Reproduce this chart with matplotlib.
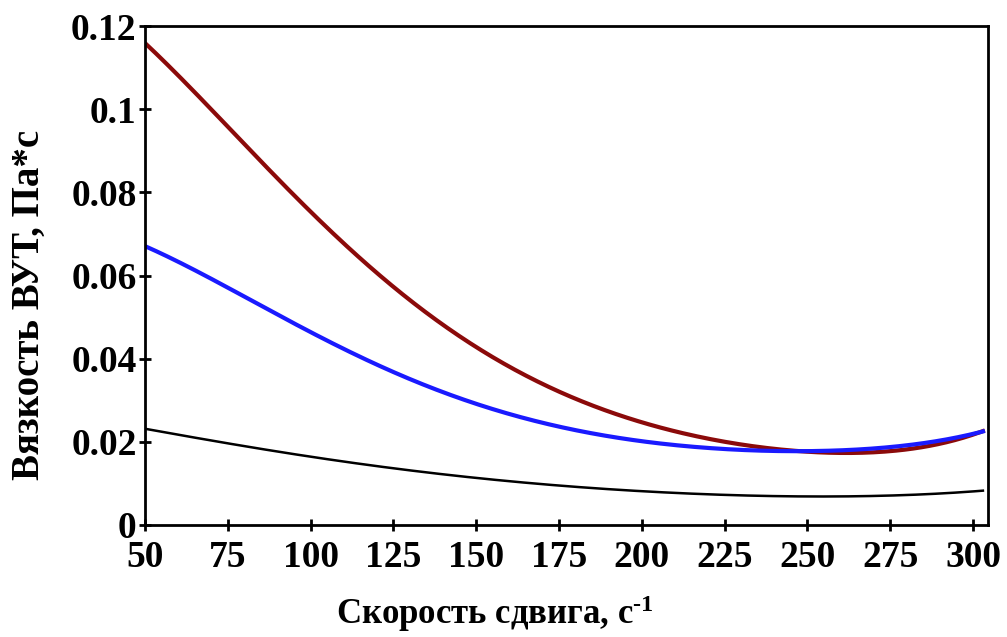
import matplotlib
matplotlib.use("Agg")
import matplotlib.pyplot as plt
import numpy as np

# Dati
shear_rate = [50, 75, 100, 125, 150, 175, 200, 225, 250, 275, 303]
visc_red = [0.1157, 0.0965, 0.0750, 0.0565, 0.0433, 0.0325, 0.0248, 0.0195, 0.0173, 0.0183, 0.0224]
visc_blue = [0.0669, 0.0577, 0.0457, 0.0368, 0.0293, 0.0238, 0.0202, 0.0180, 0.0176, 0.0190, 0.0224]
visc_black = [0.0231, 0.0197, 0.0164, 0.0135, 0.0113, 0.0096, 0.0081, 0.0072, 0.0067, 0.0072, 0.0082]

xticks = [50, 75, 100, 125, 150, 175, 200, 225, 250, 275, 300]
yticks = [0, 0.02, 0.04, 0.06, 0.08, 0.1, 0.12]
ytick_labels = ["0", "0.02", "0.04", "0.06", "0.08", "0.1", "0.12"]

plt.rcParams["font.family"] = ["Liberation Serif", "DejaVu Serif"]
plt.rcParams["font.weight"] = "bold"
plt.rcParams["mathtext.fontset"] = "custom"
plt.rcParams["mathtext.rm"] = "Liberation Serif:bold"
plt.rcParams["mathtext.it"] = "Liberation Serif:bold"
plt.rcParams["mathtext.bf"] = "Liberation Serif:bold"

fig = plt.figure(figsize=(10.07, 6.37), dpi=100)
ax = fig.add_axes([0.144, 0.176, 0.837, 0.783])

# curve lisce tra i punti letti
def smooth(x, y):
    xs = np.linspace(x[0], x[-1], 300)
    c = np.polyfit(x, y, 5)
    return xs, np.polyval(c, xs)

xs, ys = smooth(shear_rate, visc_black)
ax.plot(xs, ys, color="black", lw=1.8)
xs, ys = smooth(shear_rate, visc_red)
ax.plot(xs, ys, color="#8b0a0a", lw=3)
xs, ys = smooth(shear_rate, visc_blue)
ax.plot(xs, ys, color="#1a1aff", lw=3)

ax.set_xlim(50, 304.5)
ax.set_ylim(0, 0.12)
ax.set_xticks(xticks)
ax.set_xticklabels([str(t) for t in xticks])
ax.set_yticks(yticks)
ax.set_yticklabels(ytick_labels)
ax.tick_params(direction="inout", length=8, width=2, labelsize=27, pad=2)
ax.tick_params(axis="x", pad=7)
for s in ax.spines.values():
    s.set_linewidth(2)

ax.set_xlabel("Скорость сдвига, с$^{\\text{-1}}$", fontsize=25, fontweight="bold")
ax.xaxis.set_label_coords(0.415, -0.138)
ax.set_ylabel("Вязкость ВУТ, Па*с", fontsize=28, fontweight="bold")
ax.yaxis.set_label_coords(-0.115, 0.44)

plt.savefig("out.png", dpi=100)
